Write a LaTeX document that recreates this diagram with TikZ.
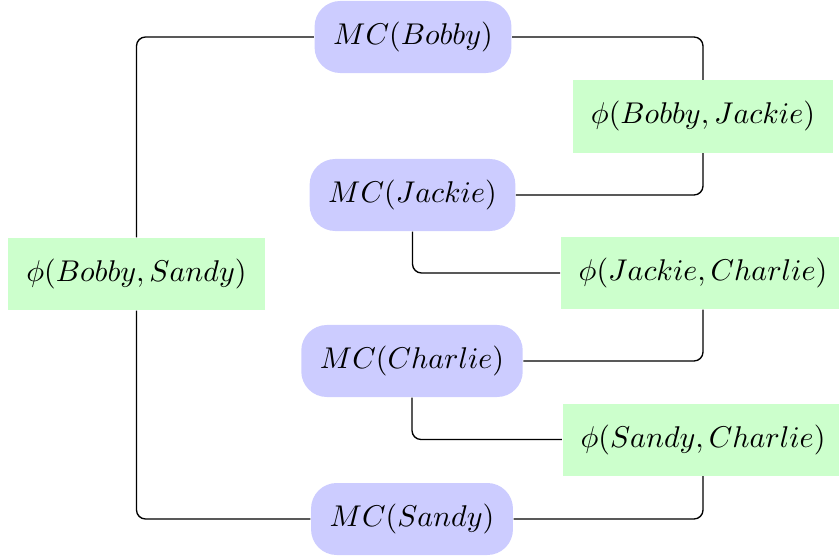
\documentclass[tikz,border=0pt]{standalone}
\begin{document}
\begin{tikzpicture}[x=0.3333pt,y=-0.3333pt,
  var/.style={fill=blue!20,rounded corners=3mm,inner xsep=6.2pt,inner ysep=7pt,minimum height=23.5pt},
  factor/.style={fill=green!20,inner xsep=6pt,inner ysep=7pt,minimum height=23.5pt},
  link/.style={draw=black,line width=0.45pt,rounded corners=3pt}]
\useasboundingbox (0,0) rectangle (839,556);
% variable nodes
\node[var] (mcb) at (413,37) {$MC(Bobby)$};
\node[var] (mcj) at (412.5,195) {$MC(Jackie)$};
\node[var] (mcc) at (412,361) {$MC(Charlie)$};
\node[var] (mcs) at (412,519) {$MC(Sandy)$};
% factor nodes
\node[factor] (fbj) at (703,116.5) {$\phi(Bobby, Jackie)$};
\node[factor] (fjc) at (703,273) {$\phi(Jackie, Charlie)$};
\node[factor] (fsc) at (703,439.5) {$\phi(Sandy, Charlie)$};
\node[factor] (fbs) at (136.5,274) {$\phi(Bobby, Sandy)$};
% connections
\draw[link] (mcb.east) -| (fbj.north);
\draw[link] (fbj.south) |- (mcj.east);
\draw[link] (mcj.south) |- (fjc.west);
\draw[link] (fjc.south) |- (mcc.east);
\draw[link] (mcc.south) |- (fsc.west);
\draw[link] (fsc.south) |- (mcs.east);
\draw[link] (mcb.west) -| (fbs.north);
\draw[link] (fbs.south) |- (mcs.west);
\end{tikzpicture}
\end{document}
